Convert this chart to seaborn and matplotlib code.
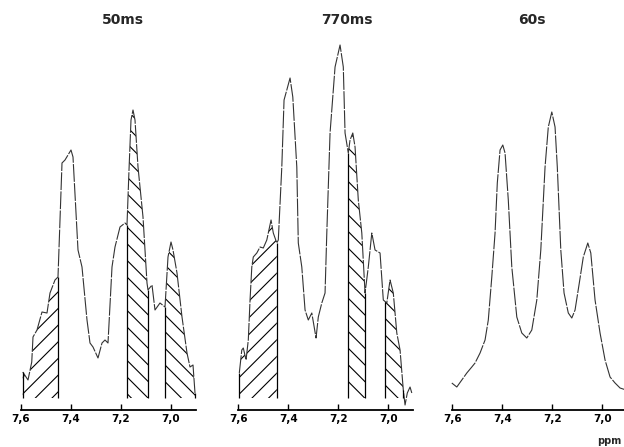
import numpy as np
import seaborn as sns
import matplotlib
matplotlib.use("Agg")
import matplotlib.pyplot as plt

# --- Spectra (chemical shift in ppm, intensity in arb. units) ---
ppm_50ms = [7.593, 7.572, 7.557, 7.552, 7.536, 7.516, 7.496, 7.484, 7.464, 7.452,
            7.436, 7.424, 7.412, 7.400, 7.392, 7.372, 7.356, 7.336, 7.324, 7.312,
            7.292, 7.276, 7.264, 7.252, 7.236, 7.224, 7.204, 7.184, 7.176, 7.168,
            7.160, 7.152, 7.144, 7.132, 7.112, 7.096, 7.092, 7.076, 7.064, 7.044,
            7.024, 7.012, 7.000, 6.992, 6.976, 6.956, 6.936, 6.924, 6.912, 6.904]
int_50ms = [26, 18, 36, 61, 68, 86, 85, 105, 118, 121,
            235, 238, 243, 248, 241, 148, 131, 78, 55, 51,
            40, 55, 58, 55, 131, 151, 171, 175, 173, 228,
            278, 288, 278, 231, 181, 115, 108, 113, 88, 95,
            91, 141, 156, 148, 125, 81, 45, 31, 33, 5]

ppm_770ms = [7.596, 7.586, 7.580, 7.569, 7.560, 7.553, 7.546, 7.540, 7.526, 7.513,
             7.500, 7.486, 7.469, 7.460, 7.446, 7.440, 7.426, 7.417, 7.406, 7.393,
             7.382, 7.366, 7.360, 7.346, 7.333, 7.320, 7.306, 7.289, 7.280, 7.266,
             7.253, 7.246, 7.233, 7.213, 7.193, 7.180, 7.173, 7.160, 7.153, 7.142,
             7.133, 7.120, 7.106, 7.093, 7.080, 7.066, 7.053, 7.033, 7.020, 7.006,
             6.993, 6.980, 6.966, 6.953, 6.940, 6.933, 6.924, 6.913, 6.906]
int_770ms = [25, 48, 50, 38, 58, 98, 131, 141, 145, 151,
             150, 158, 178, 165, 155, 158, 231, 298, 308, 320,
             301, 231, 155, 131, 88, 78, 85, 60, 81, 95,
             105, 165, 265, 331, 353, 331, 265, 245, 258, 265,
             251, 198, 165, 105, 131, 165, 148, 145, 98, 95,
             118, 105, 65, 48, 8, -7, 5, 11, 5]

ppm_60s = [7.602, 7.582, 7.562, 7.542, 7.522, 7.509, 7.489, 7.469, 7.456, 7.442,
           7.429, 7.420, 7.409, 7.398, 7.389, 7.376, 7.362, 7.342, 7.322, 7.302,
           7.282, 7.262, 7.246, 7.229, 7.216, 7.202, 7.189, 7.180, 7.166, 7.153,
           7.136, 7.122, 7.109, 7.092, 7.076, 7.058, 7.046, 7.029, 7.009, 6.989,
           6.969, 6.949, 6.929, 6.905]
int_60s = [15, 11, 18, 25, 31, 35, 45, 58, 78, 121,
           165, 215, 248, 253, 245, 198, 131, 81, 65, 60,
           68, 98, 148, 231, 271, 286, 271, 231, 148, 105,
           85, 80, 88, 115, 141, 155, 145, 98, 65, 38,
           21, 15, 10, 8]

# hatched integration windows (ppm from, ppm to, hatch)
regions_50ms = [(7.593, 7.452, "//"), (7.176, 7.092, "\\\\"), (7.024, 6.904, "\\\\")]
regions_770ms = [(7.596, 7.446, "//"), (7.160, 7.093, "\\\\"), (7.013, 6.940, "\\\\")]
regions_60s = []

titles = ["50ms", "770ms", "60s"]
tick_vals = [7.6, 7.4, 7.2, 7.0]
tick_labels = ["7,6", "7,4", "7,2", "7,0"]

sns.set_style("white")
plt.rcParams["hatch.linewidth"] = 0.8

W, H = 624, 447
fig = plt.figure(figsize=(W / 100, H / 100), dpi=100)

panels = [
    (ppm_50ms, int_50ms, regions_50ms, 16.0, 123),
    (ppm_770ms, int_770ms, regions_770ms, 233.3, 347),
    (ppm_60s, int_60s, regions_60s, 447.3, 532),
]

for (x, y, regions, left_px, title_px), title in zip(panels, titles):
    ax = fig.add_axes([left_px / W, (H - 410) / H, 182.5 / W, 380 / H])
    ax.patch.set_alpha(0)
    x = np.asarray(x)
    y = np.asarray(y)
    sns.lineplot(x=x, y=y, ax=ax, sort=False, estimator=None, color="#333333",
                 linewidth=0.8, dashes=False)
    ax.lines[-1].set_dashes([16, 1.2])

    # hatched integration windows with vertical edges
    xs_sorted, ys_sorted = x[::-1], y[::-1]
    for lo, hi, hatch in regions:
        xs = np.linspace(lo, hi, 200)
        ys = np.interp(xs, xs_sorted, ys_sorted)
        ax.fill_between(xs, 0, ys, facecolor="none", edgecolor="black",
                        hatch=hatch, linewidth=0)
        for edge in (lo, hi):
            ax.vlines(edge, 0, np.interp(edge, xs_sorted, ys_sorted),
                      color="black", linewidth=0.9)

    ax.set_xlim(7.62, 6.89)
    ax.set_ylim(-12, 368)
    for side in ["top", "left", "right"]:
        ax.spines[side].set_visible(False)
    ax.spines["bottom"].set_bounds(7.6, 6.9)
    ax.spines["bottom"].set_linewidth(1.3)
    ax.spines["bottom"].set_color("black")
    ax.set_yticks([])
    ax.set_xticks(tick_vals)
    ax.set_xticklabels(tick_labels, fontsize=7.5, fontweight="bold")
    ax.tick_params(axis="x", direction="in", length=4, width=1.0, pad=3,
                   bottom=True, colors="black")

    fig.text(title_px / W, (H - 20) / H, title, ha="center", va="center",
             fontsize=10, fontweight="bold")

fig.text(597 / W, (H - 441) / H, "ppm", ha="left", va="center",
         fontsize=7, fontweight="bold")

fig.savefig("out.png", dpi=100)
